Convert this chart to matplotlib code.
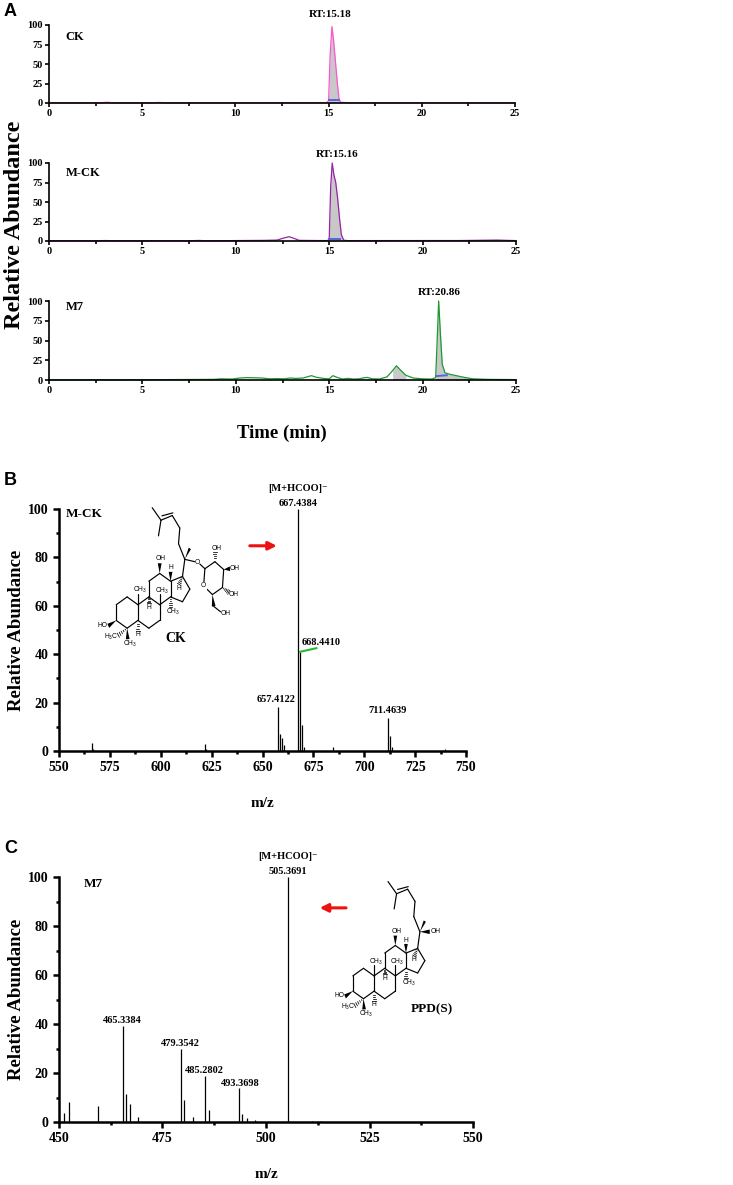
import numpy as np
import matplotlib.pyplot as plt
from matplotlib.patches import Polygon
from matplotlib.ticker import MultipleLocator

plt.rcParams['font.family'] = ['Liberation Serif', 'DejaVu Serif']
plt.rcParams['font.weight'] = 'bold'
plt.rcParams['mathtext.default'] = 'regular'

# ---- panel A: extracted ion chromatograms (time in min, relative abundance) ----
ck_t = [0, 2.8, 3.1, 3.4, 5.5, 5.9, 6.3, 14.9, 15.0, 15.08, 15.18, 15.26, 15.36, 15.47, 15.56, 15.65, 16.0, 25]
ck_i = [0.3, 0.3, 1.0, 0.3, 0.3, 0.7, 0.3, 0.5, 3, 60, 98, 82, 55, 25, 5, 1, 0.4, 0.3]
ck_base_t = [15.0, 15.55]
ck_base_i = [4, 4]

mck_t = [0, 2.5, 3.0, 3.5, 7.5, 8.0, 8.5, 11.5, 12.2, 12.6, 12.85, 13.1, 13.4, 14.9, 15.0,
         15.08, 15.16, 15.25, 15.35, 15.45, 15.55, 15.65, 15.78, 16.0, 22, 24, 25]
mck_i = [0.3, 0.3, 0.6, 0.3, 0.3, 0.7, 0.3, 0.8, 1.2, 4, 5.5, 3.5, 0.8, 0.5, 2,
         70, 100, 85, 75, 55, 30, 8, 1, 0.5, 0.6, 1.2, 0.5]
mck_base_t = [15.0, 15.6]
mck_base_i = [3, 3]

m7_t = [0, 5, 8.8, 9.2, 9.8, 10.2, 10.6, 11.0, 11.4, 11.8, 12.2, 12.6, 12.9, 13.2, 13.6, 13.9,
        14.05, 14.3, 14.7, 15.0, 15.2, 15.4, 15.7, 16.0, 16.3, 16.6, 16.9, 17.05, 17.3, 17.7,
        18.1, 18.4, 18.6, 18.8, 19.1, 19.5, 20.0, 20.5, 20.7, 20.78, 20.86, 20.95, 21.05, 21.2,
        21.5, 21.9, 22.3, 22.7, 23.5, 25]
m7_i = [0.2, 0.3, 0.8, 1.5, 1.2, 2.5, 3, 2.8, 2.5, 1.5, 1.8, 1.5, 2.5, 2, 2.5, 4.5,
        5.5, 3.5, 2, 1.5, 5.5, 3.5, 1.2, 2, 1.2, 1.5, 3, 3.2, 1.5, 1.3,
        4, 12, 18, 13, 6, 2.5, 1.5, 1.2, 3, 50, 100, 60, 20, 9,
        7, 5, 3, 1.5, 0.8, 0.5]
m7_base_t = [20.75, 21.3]
m7_base_i = [5, 6]

# ---- panel B: MS spectrum of M-CK ----
b_mz = [566.2, 566.8, 621.6, 622.2, 657.4122, 658.4, 659.6, 660.6, 667.4384, 668.4410,
        669.6, 670.5, 684.5, 711.4639, 712.8, 713.5, 739.8]
b_int = [3.3, 1.0, 3.0, 1.0, 18.2, 7.2, 5.5, 2.3, 100, 41, 10.6, 1.6, 1.6, 13.8, 6.0, 1.6, 1.0]

# ---- panel C: MS spectrum of M7 ----
c_mz = [451.3, 452.3, 459.3, 465.3384, 466.3, 467.2, 469.2, 479.3542, 480.3, 482.3,
        485.2802, 486.2, 493.3698, 494.3, 495.3, 497.4, 505.3691, 511.2, 513.4]
c_int = [3.7, 8.0, 6.4, 39, 11.3, 7.3, 2.0, 29.7, 8.8, 2.0,
         18.6, 4.9, 13.8, 3.4, 1.6, 0.8, 100, 0.4, 0.6]

W, H = 733, 1185
fig = plt.figure(figsize=(W / 100, H / 100), dpi=100)


def px_axes(x0, y0, x1, y1):
    return fig.add_axes([x0 / W, 1 - y1 / H, (x1 - x0) / W, (y1 - y0) / H])


def style(ax, lw, size, major, minor, pad):
    for s in ['top', 'right']:
        ax.spines[s].set_visible(False)
    for s in ['left', 'bottom']:
        ax.spines[s].set_linewidth(lw)
    ax.tick_params(which='major', direction='out', length=major, width=lw, labelsize=size, pad=pad)
    ax.tick_params(which='minor', direction='out', length=minor, width=lw)
    for lab in ax.get_xticklabels() + ax.get_yticklabels():
        lab.set_fontweight('bold')


def chrom(ax, t, i, color, fills, bt, bi, name, name_y, rt, rt_x, rt_y):
    t = np.array(t)
    i = np.array(i)
    for a, b in fills:
        m = (t >= a) & (t <= b)
        ax.fill_between(t[m], 0, i[m], color='#c8c8c8', lw=0, zorder=1)
    ax.plot(t, i, color=color, lw=0.9, zorder=2, clip_on=False)
    ax.plot(bt, bi, color='#5566dd', lw=1.4, zorder=3)
    ax.set_xlim(0, 25)
    ax.set_ylim(0, 100)
    ax.set_xticks([0, 5, 10, 15, 20, 25])
    ax.xaxis.set_minor_locator(MultipleLocator(2.5))
    ax.set_yticks([0, 25, 50, 75, 100])
    style(ax, 1.2, 7.5, 3, 2, 1.5)
    ax.text(0.9, name_y, name, fontsize=9, fontweight='bold', va='center')
    ax.text(rt_x, rt_y, rt, fontsize=8, fontweight='bold', ha='center', va='center')


a1 = px_axes(49, 25, 515, 103)
chrom(a1, ck_t, ck_i, '#ff55cc', [(15.0, 15.65)], ck_base_t, ck_base_i, 'CK', 84, 'RT:15.18', 15.1, 113)
a2 = px_axes(49, 163, 516, 241)
chrom(a2, mck_t, mck_i, '#9a22aa', [(15.0, 15.78)], mck_base_t, mck_base_i, 'M-CK', 87, 'RT:15.16', 15.4, 111)
a3 = px_axes(49, 301, 516, 380)
chrom(a3, m7_t, m7_i, '#1a9a30', [(18.3, 19.3), (20.7, 22.7)], m7_base_t, m7_base_i, 'M7', 92, 'RT:20.86', 20.9, 111)

fig.text(15 / W, 1 - 225 / H, 'Relative Abundance', rotation=90, fontsize=17.5, fontweight='bold',
         ha='center', va='center')
fig.text(282 / W, 1 - 433 / H, 'Time (min)', fontsize=13.5, fontweight='bold', ha='center', va='center')


def spectrum(ax, mz, inten, xlo, xhi):
    ax.vlines(mz, 0, inten, color='black', lw=0.9)
    ax.set_xlim(xlo, xhi)
    ax.set_ylim(0, 100)
    ax.xaxis.set_major_locator(MultipleLocator(25))
    ax.xaxis.set_minor_locator(MultipleLocator(12.5))
    ax.yaxis.set_major_locator(MultipleLocator(20))
    ax.yaxis.set_minor_locator(MultipleLocator(10))
    style(ax, 1.8, 10, 4.5, 2.5, 3)
    ax.set_ylabel('Relative Abundance', fontsize=13.5, fontweight='bold', labelpad=2)
    ax.set_xlabel('m/z', fontsize=11, fontweight='bold', labelpad=16)


def peak_label(ax, x, y, txt, ha='center', va='bottom'):
    ax.text(x, y, txt, fontsize=7.5, fontweight='bold', ha=ha, va=va)


ax_b = px_axes(59, 509, 466, 751)
spectrum(ax_b, b_mz, b_int, 550, 750)
peak_label(ax_b, 667.4, 100.5, '667.4384')
peak_label(ax_b, 667.4, 106.5, '[M+HCOO]⁻')
peak_label(ax_b, 669.4, 45, '668.4410', ha='left', va='center')
peak_label(ax_b, 656.6, 19.5, '657.4122')
peak_label(ax_b, 711.7, 15, '711.4639')
ax_b.plot([668.5, 676.5], [41, 42.5], color='#22bb33', lw=1.5)
ax_b.annotate('', xy=(658.4, 84.8), xytext=(642.4, 84.8),
              arrowprops=dict(arrowstyle='-|>', color='#ee1111', lw=2.2, mutation_scale=12))
ax_b.text(553.5, 98, 'M-CK', fontsize=9.5, fontweight='bold', va='center')
ax_b.text(607.5, 46.5, 'CK', fontsize=10, fontweight='bold', ha='center', va='center')

ax_c = px_axes(59, 877, 473, 1122)
spectrum(ax_c, c_mz, c_int, 450, 550)
peak_label(ax_c, 505.4, 100.5, '505.3691')
peak_label(ax_c, 505.4, 106.5, '[M+HCOO]⁻')
peak_label(ax_c, 465.2, 39.5, '465.3384')
peak_label(ax_c, 479.2, 30, '479.3542')
peak_label(ax_c, 485.0, 19, '485.2802')
peak_label(ax_c, 493.7, 14, '493.3698')
ax_c.annotate('', xy=(512.3, 87.4), xytext=(520.0, 87.4),
              arrowprops=dict(arrowstyle='-|>', color='#ee1111', lw=2.2, mutation_scale=12))
ax_c.text(456, 97, 'M7', fontsize=9.5, fontweight='bold', va='center')
ax_c.text(540, 46, 'PPD(S)', fontsize=9.5, fontweight='bold', ha='center', va='center')

for lab, y in [('A', 3), ('B', 472), ('C', 840)]:
    fig.text(4 / W, 1 - y / H, lab, fontsize=13, fontweight='bold', family='Liberation Sans',
             ha='left', va='top')


# ---- structure sketches (dammarane skeleton) ----
atoms = {
    'C1': (0, 1), 'C2': (-0.866, 0.5), 'C3': (-0.866, -0.5), 'C4': (0, -1), 'C5': (0.866, -0.5),
    'C10': (0.866, 0.5), 'C6': (1.732, -1), 'C7': (2.598, -0.5), 'C8': (2.598, 0.5), 'C9': (1.732, 1),
    'C11': (1.732, 2), 'C12': (2.598, 2.5), 'C13': (3.464, 2), 'C14': (3.464, 1),
    'C15': (4.415, 0.691), 'C16': (5.003, 1.5), 'C17': (4.415, 2.309),
    'C20': (4.6, 3.4), 'C22': (4.1, 4.4), 'C23': (4.2, 5.4), 'C24': (3.6, 6.2),
    'C25': (2.7, 5.9), 'C26': (2.0, 6.7), 'C27': (2.5, 4.9),
}
ring_bonds = [('C1', 'C2'), ('C2', 'C3'), ('C3', 'C4'), ('C4', 'C5'), ('C5', 'C10'), ('C10', 'C1'),
              ('C5', 'C6'), ('C6', 'C7'), ('C7', 'C8'), ('C8', 'C9'), ('C9', 'C10'),
              ('C9', 'C11'), ('C11', 'C12'), ('C12', 'C13'), ('C13', 'C14'), ('C14', 'C8'),
              ('C14', 'C15'), ('C15', 'C16'), ('C16', 'C17'), ('C17', 'C13'),
              ('C17', 'C20'), ('C20', 'C22'), ('C22', 'C23'), ('C23', 'C24'), ('C24', 'C25'),
              ('C25', 'C26'), ('C25', 'C27')]


def line(ax, p, q):
    ax.plot([p[0], q[0]], [p[1], q[1]], color='black', lw=0.85, solid_capstyle='round')


def wedge(ax, p, q, w=0.15):
    d = np.array(q) - np.array(p)
    n = np.array([-d[1], d[0]]) / np.hypot(*d) * w
    ax.add_patch(Polygon([p, np.array(q) + n, np.array(q) - n], closed=True, color='black', lw=0))


def hashed(ax, p, q, w=0.15, k=5):
    p = np.array(p)
    q = np.array(q)
    d = q - p
    n = np.array([-d[1], d[0]]) / np.hypot(*d)
    for f in np.linspace(0.2, 1, k):
        c = p + d * f
        ax.plot([c[0] - n[0] * w * f, c[0] + n[0] * w * f], [c[1] - n[1] * w * f, c[1] + n[1] * w * f],
                color='black', lw=0.55)


def lbl(ax, x, y, s, size=4.8):
    ax.text(x, y, s, fontsize=size, family='Liberation Sans', fontweight='normal',
            ha='center', va='center')


def core(ax):
    for a, b in ring_bonds:
        line(ax, atoms[a], atoms[b])
    # double bond C24=C25
    p, q = np.array(atoms['C24']), np.array(atoms['C25'])
    off = np.array([0.08, 0.28])
    line(ax, p + off * 0.6, q + off)
    wedge(ax, atoms['C3'], (-1.5, -0.85))
    lbl(ax, -1.95, -0.8, 'HO')
    hashed(ax, atoms['C4'], (-0.7, -1.45))
    lbl(ax, -1.25, -1.55, 'H$_3$C')
    wedge(ax, atoms['C4'], (0.05, -1.7))
    lbl(ax, 0.2, -2.0, 'CH$_3$')
    hashed(ax, atoms['C5'], (0.866, -1.15))
    lbl(ax, 0.866, -1.4, 'H')
    line(ax, atoms['C10'], (0.866, 1.2))
    lbl(ax, 1.0, 1.45, 'CH$_3$')
    hashed(ax, atoms['C9'], (1.732, 0.6))
    lbl(ax, 1.732, 0.35, 'H')
    line(ax, atoms['C8'], (2.598, 1.2))
    lbl(ax, 2.75, 1.4, 'CH$_3$')
    wedge(ax, atoms['C12'], (2.598, 3.15))
    lbl(ax, 2.7, 3.45, 'OH')
    wedge(ax, atoms['C13'], (3.464, 2.6))
    lbl(ax, 3.464, 2.85, 'H')
    hashed(ax, atoms['C14'], (3.464, 0.35))
    lbl(ax, 3.7, 0.05, 'CH$_3$')
    hashed(ax, atoms['C17'], (4.15, 1.8))
    lbl(ax, 4.1, 1.55, 'H')
    wedge(ax, atoms['C20'], (5.0, 4.1), w=0.1)


# CK: glycoside at C20
s1 = px_axes(97, 503, 240, 647)
s1.set_xlim(-2.4, 9.0)
s1.set_ylim(-2.2, 7.0)
s1.axis('off')
s1.patch.set_alpha(0)
core(s1)
sugar = [(6.2, 2.8), (7.0, 3.25), (7.7, 2.75), (7.6, 1.6), (6.8, 1.15), (6.1, 1.7)]
line(s1, atoms['C20'], (5.4, 3.25))
lbl(s1, 5.6, 3.2, 'O')
line(s1, (5.8, 3.1), sugar[0])
for k in range(6):
    line(s1, sugar[k], sugar[(k + 1) % 6])
lbl(s1, sugar[5][0], sugar[5][1], 'O')
s1.texts[-1].set_bbox(dict(facecolor='white', edgecolor='none', pad=0.3))
hashed(s1, sugar[1], (7.0, 3.85))
lbl(s1, 7.15, 4.1, 'OH')
wedge(s1, sugar[2], (8.2, 2.8))
lbl(s1, 8.6, 2.8, 'OH')
hashed(s1, sugar[3], (8.1, 1.3))
lbl(s1, 8.5, 1.15, 'OH')
wedge(s1, sugar[4], (6.9, 0.4))
line(s1, (6.9, 0.4), (7.45, 0.05))
lbl(s1, 7.85, -0.05, 'OH')

# PPD(S): free hydroxyl at C20
s2 = px_axes(334, 877, 442, 1017)
s2.set_xlim(-2.4, 6.4)
s2.set_ylim(-2.2, 7.0)
s2.axis('off')
s2.patch.set_alpha(0)
core(s2)
wedge(s2, atoms['C20'], (5.4, 3.4))
lbl(s2, 5.85, 3.4, 'OH')

fig.savefig('out.png', dpi=100)
